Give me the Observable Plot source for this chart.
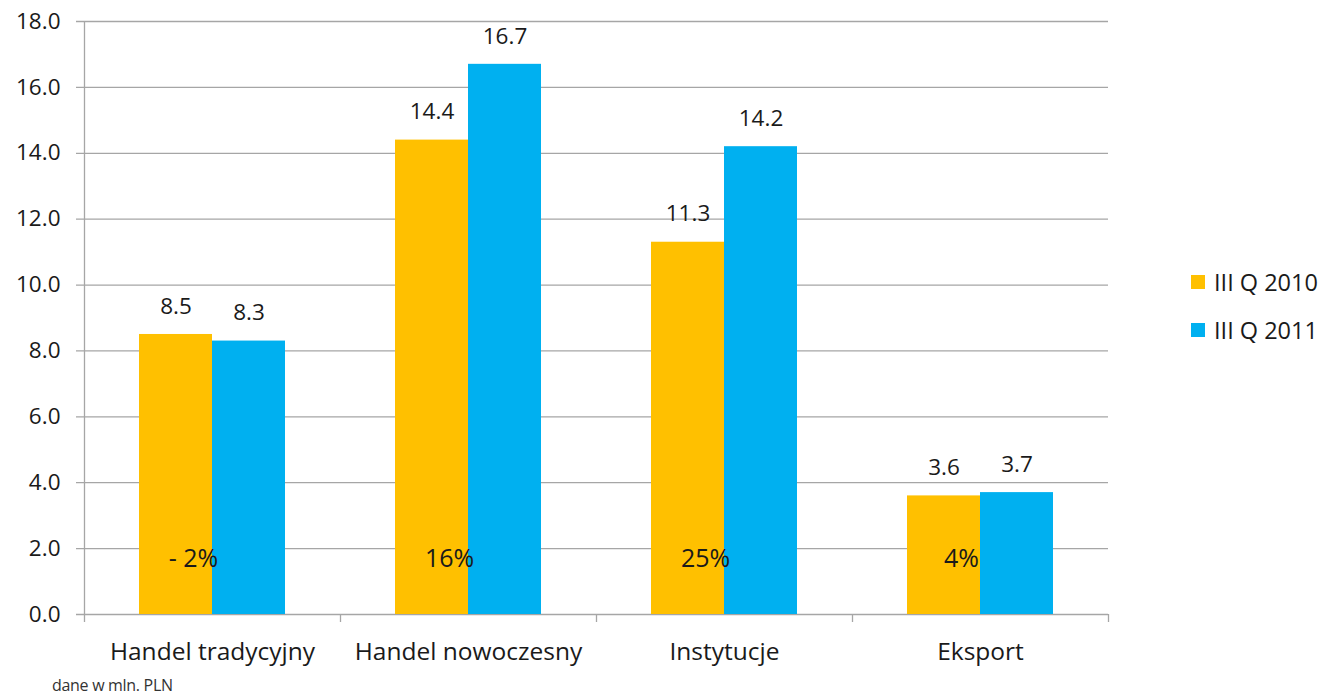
<!DOCTYPE html>
<html>
<head>
<meta charset="utf-8">
<script src="https://cdn.jsdelivr.net/npm/d3@7"></script>
<script src="https://cdn.jsdelivr.net/npm/@observablehq/plot@0.6"></script>
<style>
  html, body { margin: 0; padding: 0; background: #fff; }
  #wrap { position: relative; width: 1324px; height: 696px; font-family: "Open Sans", Lato, sans-serif; color: #1a1a1a; }
  #chart svg { display: block; }
  .legend { position: absolute; left: 1191px; top: 265px; font-size: 23.5px; }
  .legend .row { display: flex; align-items: center; height: 34px; margin-bottom: 14px; }
  .legend .sw { width: 14px; height: 14px; margin-right: 9px; }
  .note { position: absolute; left: 52px; top: 676px; font-size: 16px; line-height: 18px; color: #333; letter-spacing: -0.3px; }
</style>
</head>
<body>
<div id="wrap">
  <div id="chart"></div>
  <div class="legend" id="legend"></div>
  <div class="note">dane w mln. PLN</div>
</div>
<script>
// Sales by channel, in million PLN
const categories = ["Handel tradycyjny", "Handel nowoczesny", "Instytucje", "Eksport"];
const q2010 = [8.5, 14.4, 11.3, 3.6];
const q2011 = [8.3, 16.7, 14.2, 3.7];
const changes = ["- 2%", "16%", "25%", "4%"];
const seriesNames = ["III Q 2010", "III Q 2011"];
const seriesColors = ["#FFC000", "#00B0F0"];
const yTicks = [0, 2, 4, 6, 8, 10, 12, 14, 16, 18];

const rows2010 = categories.map((c, i) => ({category: c, value: q2010[i]}));
const rows2011 = categories.map((c, i) => ({category: c, value: q2011[i]}));
const changeRows = categories.map((c, i) => ({category: c, label: changes[i]}));

const gray = "#a6a6a6";
const font = "'Open Sans', Lato, sans-serif";
const ink = "#1a1a1a";
const fmt = d3.format(".1f");

const chart = Plot.plot({
  width: 1324,
  height: 670,
  marginLeft: 84,
  marginRight: 216,
  marginTop: 21,
  marginBottom: 56,
  style: {fontFamily: font, color: ink, background: "transparent"},
  x: {domain: categories, padding: 0, label: null},
  y: {domain: [0, 18], label: null},
  marks: [
    // horizontal gridlines with short ticks left of the axis
    Plot.ruleY(yTicks, {stroke: gray, strokeWidth: 1.3, insetLeft: -8}),
    // vertical axis line
    Plot.ruleX([categories[0]], {dx: -128, y1: 18, y2: 0, insetBottom: -8, stroke: gray, strokeWidth: 1.3}),
    // category separators below the baseline
    Plot.ruleX(categories, {dx: 128, y1: 0, y2: 0, insetBottom: -8, stroke: gray, strokeWidth: 1.3}),
    Plot.barY(rows2010, {x: "category", y: "value", fill: seriesColors[0], insetLeft: 55, insetRight: 128}),
    Plot.barY(rows2011, {x: "category", y: "value", fill: seriesColors[1], insetLeft: 128, insetRight: 55}),
    Plot.text(rows2010, {x: "category", y: "value", text: d => fmt(d.value), dx: -36.5, dy: -28, fontSize: 22.5, fill: ink}),
    Plot.text(rows2011, {x: "category", y: "value", text: d => fmt(d.value), dx: 36.5, dy: -28, fontSize: 22.5, fill: ink}),
    Plot.text(changeRows, {x: "category", frameAnchor: "bottom", text: "label", dx: -19, dy: -48, fontSize: 25, fill: ink}),
    Plot.axisY({ticks: yTicks, tickFormat: fmt, tickSize: 0, tickPadding: 24, fontSize: 22.5, fill: ink}),
    Plot.axisX({tickSize: 0, tickPadding: 28, fontSize: 24.5, fill: ink, label: null})
  ]
});
document.getElementById("chart").appendChild(chart);

const legend = document.getElementById("legend");
seriesNames.forEach((name, i) => {
  const row = document.createElement("div");
  row.className = "row";
  const sw = document.createElement("span");
  sw.className = "sw";
  sw.style.background = seriesColors[i];
  const t = document.createElement("span");
  t.textContent = name;
  row.appendChild(sw);
  row.appendChild(t);
  legend.appendChild(row);
});
</script>
</body>
</html>
